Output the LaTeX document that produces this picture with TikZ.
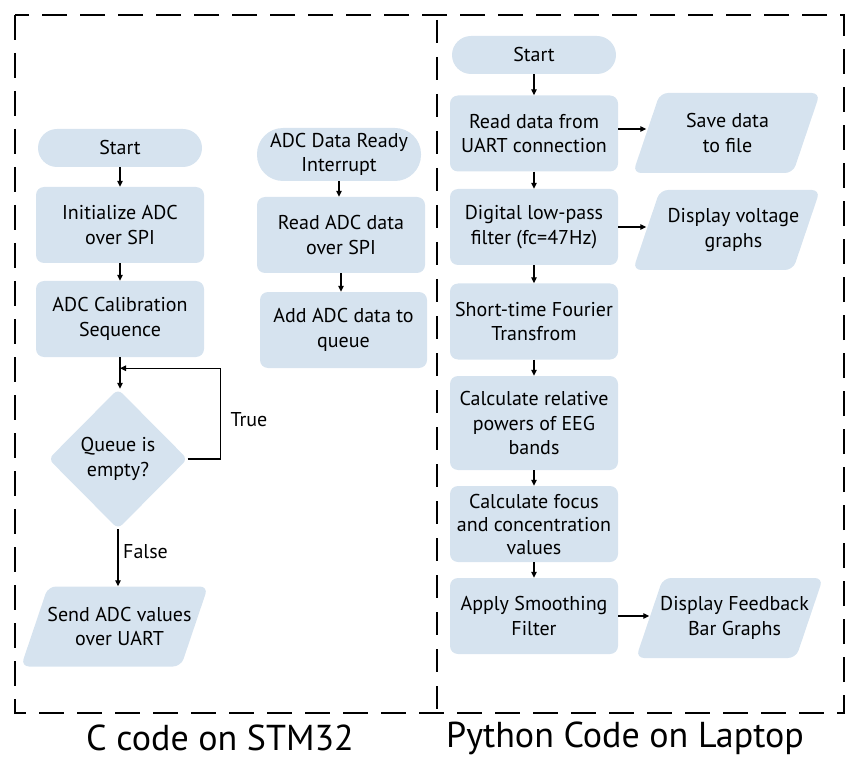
\documentclass[tikz,border=0pt]{standalone}
\usepackage{fontspec}
\setmainfont{PT Sans}
\usetikzlibrary{shapes.geometric,arrows.meta}
\definecolor{boxfill}{HTML}{D6E3EF}
\newcommand\paranode[5]{%
  \fill[boxfill, rounded corners=8pt] ({#2-93.5},{#3+40}) -- ({#2+66.5},{#3+40}) -- ({#2+93.5},{#3-40}) -- ({#2-66.5},{#3-40}) -- cycle;
  \node[paratext] (#1) at (#2,#3) {};
  \node[txt] (#1-t) at ({#2+#5},#3) {#4};
}
\begin{document}
\begin{tikzpicture}[x=1pt,y=-1pt,
  txt/.style={font=\fontsize{20}{24.5}\selectfont, align=center, inner sep=0pt},
  paratext/.style={inner sep=0pt, minimum width=160pt, minimum height=80pt},
  proc/.style={txt, fill=boxfill, rounded corners=8pt, minimum width=168pt, minimum height=76pt},
  term/.style={txt, fill=boxfill, rounded corners=19pt, minimum width=164pt, minimum height=38pt},
  dec/.style={txt, diamond, fill=boxfill, rounded corners=6pt, minimum width=139pt, minimum height=140pt, aspect=1},
  arr/.style={-{Triangle[length=6pt,width=5.5pt]}, line width=1.2pt},
  frame/.style={dash pattern=on 25pt off 13pt, line width=1.8pt},
  lbl/.style={font=\fontsize{20}{24}\selectfont, inner sep=0pt},
  title/.style={font=\fontsize{36}{42}\selectfont, inner sep=0pt},
]
\useasboundingbox (0,0) rectangle (867,767);
% frames
\draw[frame] (15,15) rectangle (844,713);
\draw[dash pattern=on 23pt off 14pt, line width=1.3pt] (437,20) -- (437,713);
% left column
\node[term] (s1) at (120,148) {Start};
\node[proc] (init) at (120,225) {Initialize ADC\\over SPI};
\node[proc] (cal) at (120,319) {ADC Calibration\\Sequence};
\node[dec] (dec) at (118,459) {Queue is\\empty?};
\paranode{send}{114.5}{626.5}{Send ADC values\\over UART}{5}
\coordinate (join) at ([yshift=-11pt]cal.south);
\draw[arr] (s1.south) -- (init.north);
\draw[arr] (init.south) -- (cal.north);
\draw[arr] (cal.south) -- (cal.south |- dec.north);
\draw[arr] (dec.east) -- ++(33,0) |- (join);
\draw[arr] (dec.south) -- (dec.south |- send.north);
\node[lbl] (true) at (249,420) {True};
\node[lbl, anchor=west] (false) at (123,552) {False};
% middle column
\node[term, minimum height=53pt, rounded corners=26pt, font=\fontsize{20}{23.5}\selectfont] (intr) at (339,154.5) {ADC Data Ready\\Interrupt};
\node[proc] (rd) at (341,235) {Read ADC data\\over SPI};
\node[proc, minimum width=167pt] (add) at (343.5,330) {Add ADC data to\\queue};
\draw[arr] (intr.south) -- (intr.south |- rd.north);
\draw[arr] (rd.south) -- (rd.south |- add.north);
% right column
\node[term] (s2) at (534,55) {Start};
\node[proc] (uart) at (534,133.5) {Read data from\\UART connection};
\node[proc] (lpf) at (534,227) {Digital low-pass\\filter (fc=47Hz)};
\node[proc] (stft) at (534,321.5) {Short-time Fourier\\Transfrom};
\node[proc, minimum height=94pt] (pow) at (534,423) {Calculate relative\\powers of EEG\\bands};
\node[proc, font=\fontsize{20}{23}\selectfont] (focus) at (534,524) {Calculate focus\\and concentration\\values};
\node[proc] (smooth) at (534,616) {Apply Smoothing\\Filter};
\paranode{save}{726.5}{133}{Save data\\to file}{1}
\paranode{volt}{726.5}{230}{Display voltage\\graphs}{7}
\paranode{fb}{729.5}{618}{Display Feedback\\Bar Graphs}{5}
\draw[arr] (s2.south) -- (uart.north);
\draw[arr] (uart.south) -- (lpf.north);
\draw[arr] (lpf.south) -- (stft.north);
\draw[arr] (stft.south) -- (pow.north);
\draw[arr] (pow.south) -- (focus.north);
\draw[arr] (focus.south) -- (smooth.north);
\draw[arr] ([yshift=4.5pt]uart.east) -- ([yshift=4.5pt]uart.east -| save.west);
\draw[arr] (lpf.east) -- (lpf.east -| volt.west);
\draw[arr] (smooth.east) -- (smooth.east -| fb.west);
% titles
\node[title] (tl) at (220,738) {C code on STM32};
\node[title] (tr) at (625,738) {Python Code on Laptop};
\end{tikzpicture}
\end{document}
